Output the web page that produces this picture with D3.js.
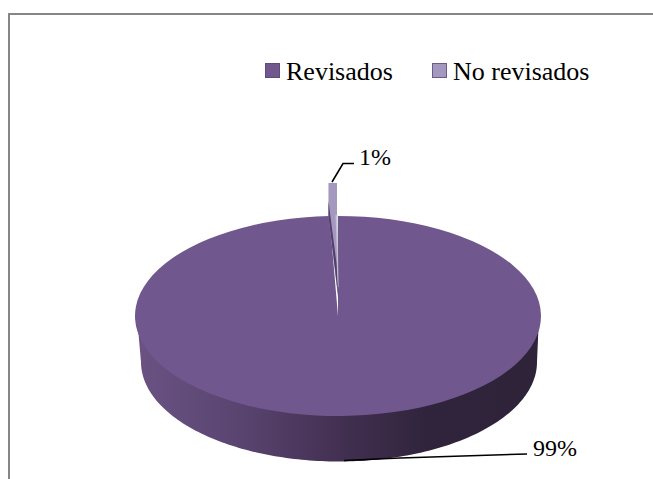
<!DOCTYPE html>
<html lang="en">
<head>
<meta charset="UTF-8">
<title>pie</title>
<script src="https://d3js.org/d3.v7.min.js"></script>
<style>
  html, body { margin: 0; padding: 0; background: #fff; }
  svg { display: block; }
  text { font-family: "Liberation Serif", serif; fill: #000; }
</style>
</head>
<body>
<svg width="653" height="479"></svg>
<script>
// data
var categories = ['Revisados', 'No revisados'];
var values = [99.33, 0.67];
var labels = ['99%', '1%'];
var colors = ['#70578e', '#a598be'];

var svg = d3.select('svg');
var defs = svg.append('defs');

// chart frame, only top and left show
svg.append('path')
    .attr('d', 'M9,479V14H653')
    .attr('fill', 'none')
    .attr('stroke', '#868686')
    .attr('stroke-width', 2);

// pie geometry
var cx = 338, cy = 316, rx = 203, ry = 100;
var botCx = 339, botCy = 362, botRx = 198, botRy = 99.5;
var explode = 33;

// side wall gradient
var grad = defs.append('linearGradient')
    .attr('id', 'wall')
    .attr('gradientUnits', 'userSpaceOnUse')
    .attr('x1', cx - rx).attr('x2', cx + rx).attr('y1', 0).attr('y2', 0);
[[0, '#6a5383'], [0.25, '#5a4571'], [0.5, '#433052'], [0.72, '#30243c'], [1, '#2e2339']].forEach(function (s) {
    grad.append('stop').attr('offset', s[0]).attr('stop-color', s[1]);
});

// the pie starts at the top, small slice ends just at 12 o'clock
var pie = d3.pie().sort(null).startAngle(0).endAngle(2 * Math.PI);
var pieData = pie(values);
var arc = d3.arc().innerRadius(0).outerRadius(rx);

// wall between top and bottom ellipse, front half
// top edge tucked 2px under the top face so no white seam shows
var wallArea = d3.area()
    .x0(function (a) { return botCx + botRx * Math.sin(a); })
    .y0(function (a) { return botCy - botRy * Math.cos(a); })
    .x1(function (a) { return cx + (rx - 2) * Math.sin(a); })
    .y1(function (a) { return cy - (ry - 2) * Math.cos(a); });

svg.append('path')
    .attr('d', wallArea(d3.range(Math.PI / 2, 3 * Math.PI / 2 + 0.001, 0.02)))
    .attr('fill', 'url(#wall)');

// big slice top face
svg.append('path')
    .attr('transform', 'translate(' + cx + ',' + cy + ') scale(1,' + ry / rx + ')')
    .attr('d', arc(pieData[0]))
    .attr('fill', colors[0]);

// small slice: top face first, inner walls over it, lifted out of the pie
var tip = cy - explode;
var small = pieData[1];
var sx = cx + rx * Math.sin(small.startAngle) - 1;
var sy = tip - ry * Math.cos(small.startAngle);
var ex = cx - 1;
var ey = tip - ry;
svg.append('path')
    .attr('d', d3.line()([[sx, sy], [ex, ey], [ex, ey + 33], [cx, tip + 15], [sx, sy + 33]]))
    .attr('fill', colors[1]);
svg.append('path')
    .attr('d', d3.line()([[sx, sy + 18], [sx, sy + 33], [cx + 0.5, tip + 16], [cx - 1.5, tip - 20]]))
    .attr('fill', '#54406c');
svg.append('path')
    .attr('d', d3.line()([[ex - 1.5, ey + 32], [ex + 0.5, ey + 32], [cx + 0.5, tip + 4], [cx, tip + 4]]))
    .attr('fill', '#c6c1d3');

// leader lines
var line = d3.line();
svg.append('path').attr('d', line([[332, 182], [343, 163.5], [354, 163.5]]))
    .attr('fill', 'none').attr('stroke', '#000').attr('stroke-width', 1.6);
svg.append('path').attr('d', line([[344, 460.5], [400, 458], [527, 454]]))
    .attr('fill', 'none').attr('stroke', '#000').attr('stroke-width', 1.5);

// data labels
svg.append('text').attr('x', 359).attr('y', 165).attr('font-size', 24).text(labels[1]);
svg.append('text').attr('x', 533).attr('y', 456).attr('font-size', 24).text(labels[0]);

// legend
var legendX = [265, 432];
var legend = svg.selectAll('.legend').data(categories).enter().append('g')
    .attr('transform', function (d, i) { return 'translate(' + legendX[i] + ',63)'; });
legend.append('rect')
    .attr('x', 0.5).attr('y', 0.5).attr('width', 14).attr('height', 14)
    .attr('fill', function (d, i) { return colors[i]; })
    .attr('stroke', function (d, i) { return i === 0 ? '#5f4a7a' : '#6d5a8a'; });
legend.append('text')
    .attr('x', 21).attr('y', 17).attr('font-size', 26)
    .text(function (d) { return d; });
</script>
</body>
</html>
